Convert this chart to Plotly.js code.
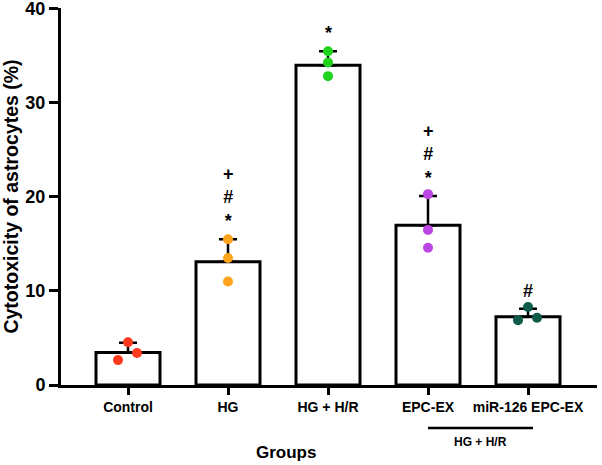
<!DOCTYPE html>
<html>
<head>
<meta charset="utf-8">
<script src="https://cdn.plot.ly/plotly-3.0.1.min.js"></script>
<style>html,body{margin:0;padding:0;background:#fff;}</style>
</head>
<body>
<div id="chart" style="width:602px;height:465px;"></div>
<script>
// ---- data ----
const categories = ["Control", "HG", "HG + H/R", "EPC-EX", "miR-126 EPC-EX"];
const means = [3.45, 13.1, 34.0, 17.0, 7.25];
const sds = [1.05, 2.4, 1.5, 3.1, 0.85];
const points = [
  [4.55, 2.65, 3.4],
  [15.5, 13.5, 11.0],
  [35.5, 34.3, 32.85],
  [20.3, 16.5, 14.6],
  [8.3, 6.9, 7.15]
];
const jitter = [
  [0, -0.1, 0.09],
  [0, 0, 0],
  [0, 0, 0],
  [0, 0, 0],
  [0, -0.1, 0.09]
];
const pointColors = ["#FF3A1C", "#FFA21C", "#1ED21E", "#BB46E4", "#0D5C47"];
const significance = ["", "+<br>#<br>*", "*", "+<br>#<br>*", "#"];
const subGroupLabel = "HG + H/R";
const yTicks = [0, 10, 20, 30, 40];

const FONT = "Liberation Sans, Arial, Helvetica, sans-serif";
const idx = categories.map((_, i) => i);

const traces = [];
traces.push({
  type: "bar",
  x: idx,
  y: means,
  width: 0.64,
  marker: {color: "#ffffff", line: {color: "#000000", width: 3}},
  error_y: {type: "data", symmetric: false, array: sds, arrayminus: sds.map(() => 0),
            color: "#000000", thickness: 2.5, width: 9},
  hoverinfo: "skip",
  showlegend: false
});
points.forEach((pts, i) => {
  traces.push({
    type: "scatter",
    mode: "markers",
    x: pts.map((_, j) => i + jitter[i][j]),
    y: pts,
    marker: {color: pointColors[i], size: 10, line: {width: 0}},
    showlegend: false,
    hoverinfo: "skip"
  });
});

const annotations = [];
significance.forEach((s, i) => {
  if (!s) return;
  annotations.push({
    x: i, y: means[i] + sds[i], xref: "x", yref: "y",
    text: s, showarrow: false, yanchor: "bottom", yshift: 6,
    font: {family: FONT, size: 18, color: "#000", weight: "bold"}
  });
});
annotations.push({
  x: 3.52, y: -0.15, xref: "x", yref: "paper", text: subGroupLabel,
  showarrow: false, yanchor: "middle",
  font: {family: FONT, size: 12, color: "#000", weight: "bold"}
});
annotations.push({
  x: (286 - 61) / 536, y: (385 - 452) / 376, xref: "paper", yref: "paper",
  text: "Groups", showarrow: false, yanchor: "middle",
  font: {family: FONT, size: 17, color: "#000", weight: "bold"}
});

const layout = {
  width: 602, height: 465,
  margin: {l: 61, r: 5, t: 8, b: 80},
  paper_bgcolor: "#fff", plot_bgcolor: "#fff",
  font: {family: FONT, color: "#000"},
  xaxis: {
    range: [-0.67, 4.69], tickmode: "array", tickvals: idx, ticktext: categories,
    showgrid: false, zeroline: false, showline: true, linecolor: "#000", linewidth: 3,
    ticks: "outside", ticklen: 7, tickwidth: 3, tickcolor: "#000",
    tickfont: {family: FONT, size: 14, color: "#000", weight: "bold"}
  },
  yaxis: {
    range: [0, 40.1], tickmode: "array", tickvals: yTicks,
    ticklabeloverflow: "allow",
    showgrid: false, zeroline: false, showline: true, linecolor: "#000", linewidth: 3,
    ticks: "outside", ticklen: 9, tickwidth: 3, tickcolor: "#000",
    tickfont: {family: FONT, size: 18, color: "#000", weight: "bold"},
    title: {text: "Cytotoxicity of astrocytes (%)", standoff: 6,
            font: {family: FONT, size: 19.5, color: "#000", weight: "bold"}}
  },
  shapes: [{
    type: "line", xref: "x", yref: "paper", x0: 3.0, x1: 4.05,
    y0: (385 - 428) / 377, y1: (385 - 428) / 377,
    line: {color: "#000", width: 2.5}
  }],
  annotations: annotations
};

Plotly.newPlot("chart", traces, layout, {displayModeBar: false, staticPlot: true});
</script>
</body>
</html>
